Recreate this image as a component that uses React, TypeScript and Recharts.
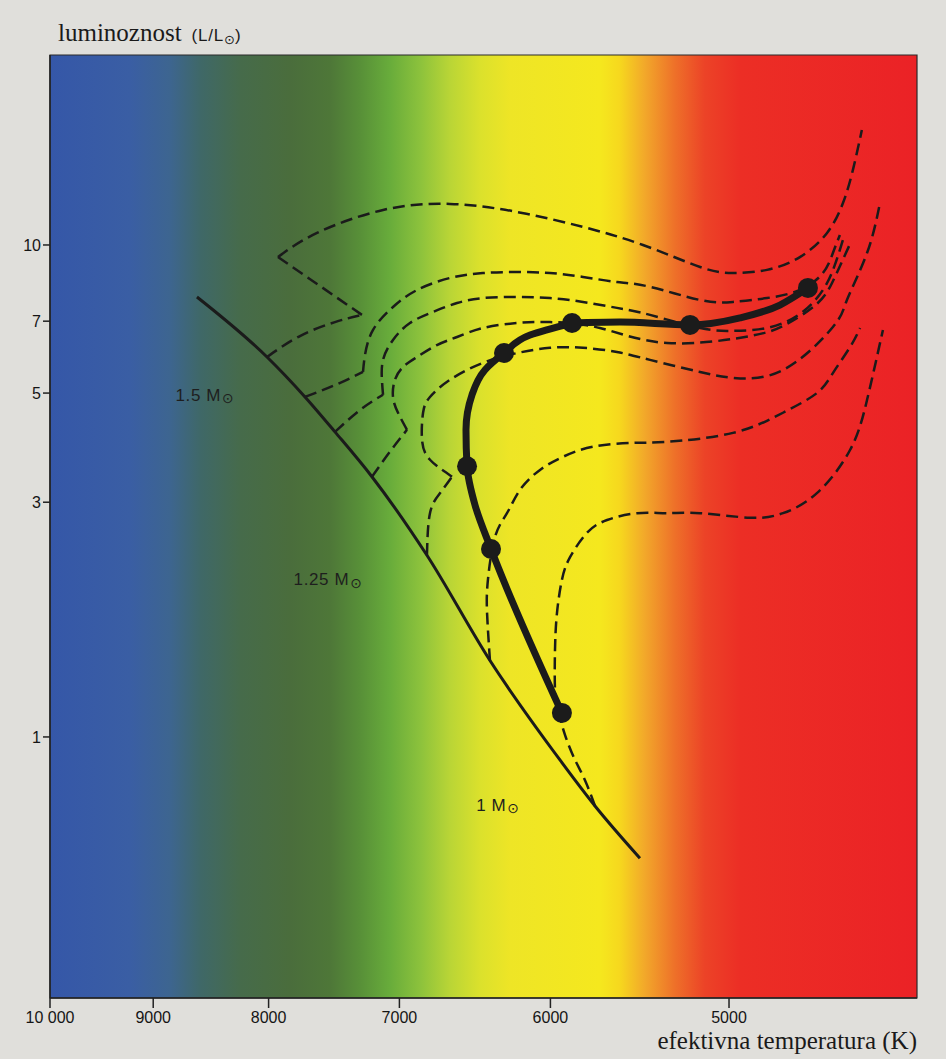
import React from 'react';
import { ComposedChart, Line, Scatter, XAxis, YAxis, CartesianGrid, ReferenceArea } from 'recharts';

type Pt = [number, number];

// Temperature (K) / luminosity (L/Lsun) pairs
const zams: Pt[] = [[8607, 7.84], [8013, 5.92], [7708, 4.91], [7476, 4.17], [7199, 3.38], [6806, 2.34], [6382, 1.43], [5942, 0.898], [5733, 0.724], [5476, 0.567]];

const track1a: Pt[] = [[8013, 5.92], [7748, 6.53], [7476, 6.97], [7273, 7.21]];
const track1b: Pt[] = [[7273, 7.21], [7924, 9.45]];
const track1c: Pt[] = [[7924, 9.45], [7614, 10.58], [7118, 11.78], [6648, 12.12], [6208, 11.67], [5804, 10.88], [5459, 10.0], [5150, 9.02], [4980, 8.77], [4810, 8.9], [4651, 9.45], [4524, 10.58], [4451, 12.17], [4406, 14.21], [4366, 17.13]];

const track2a: Pt[] = [[7708, 4.91], [7476, 5.19], [7265, 5.52]];
const track2b: Pt[] = [[7265, 5.52], [7250, 5.98], [7191, 6.72], [7046, 7.48], [6875, 8.1], [6648, 8.57], [6428, 8.77], [6208, 8.81], [6003, 8.77], [5804, 8.61], [5606, 8.41], [5420, 8.22], [5150, 7.73], [4980, 7.66], [4810, 7.8], [4651, 8.1], [4543, 8.77], [4497, 9.63], [4465, 10.48]];

const track3a: Pt[] = [[7476, 4.17], [7287, 4.62], [7118, 4.96]];
const track3b: Pt[] = [[7118, 4.96], [7126, 5.32], [7118, 5.84], [7046, 6.41], [6925, 6.94], [6764, 7.31], [6600, 7.62], [6428, 7.8], [6208, 7.84], [6003, 7.8], [5804, 7.66], [5606, 7.45], [5420, 7.21], [5150, 6.78], [4980, 6.69], [4810, 6.78], [4651, 7.24], [4543, 8.1], [4488, 9.11], [4451, 10.24]];

const track4a: Pt[] = [[7199, 3.38], [7068, 3.8], [6946, 4.21]];
const track4b: Pt[] = [[6946, 4.21], [7010, 4.56], [7046, 4.91], [7032, 5.32], [6974, 5.65], [6875, 5.92], [6737, 6.26], [6600, 6.5], [6428, 6.78], [6208, 6.94], [6003, 6.97], [5704, 6.78], [5327, 6.32], [4894, 6.53], [4713, 6.91], [4571, 7.59], [4501, 8.37], [4456, 9.24], [4419, 10.05]];

const track5a: Pt[] = [[6806, 2.34], [6785, 2.85], [6716, 3.13], [6634, 3.38]];
const track5b: Pt[] = [[6634, 3.38], [6785, 3.66], [6840, 4.01], [6833, 4.56], [6785, 4.91], [6648, 5.32], [6428, 5.76], [6208, 6.03], [6003, 6.18], [5804, 6.18], [5606, 6.06], [5420, 5.84], [5150, 5.52], [4980, 5.37], [4732, 5.57], [4497, 6.81], [4433, 7.73], [4343, 9.63], [4286, 12.17]];

const track6: Pt[] = [[6382, 1.43], [6401, 1.79], [6395, 2.09], [6349, 2.55], [6272, 2.85], [6189, 3.18], [6064, 3.49], [5924, 3.71], [5745, 3.89], [5515, 3.96], [5327, 3.98], [4980, 4.15], [4732, 4.56], [4571, 5.0], [4497, 5.49], [4419, 6.2], [4374, 6.78]];

const track7: Pt[] = [[5733, 0.724], [5792, 0.817], [5851, 0.898], [5911, 1.009], [5954, 1.134], [5972, 1.246], [5972, 1.502], [5960, 1.786], [5930, 2.085], [5881, 2.32], [5780, 2.6], [5663, 2.76], [5493, 2.85], [5327, 2.85], [5150, 2.85], [4894, 2.79], [4732, 2.85], [4571, 3.13], [4419, 3.83], [4343, 4.84], [4273, 6.72]];

// thick line: rising part (monotone in L) and flat upper part
const thickLower: Pt[] = [[5930, 1.119], [6375, 2.41], [6480, 2.96], [6533, 3.55], [6540, 4.21], [6500, 4.96], [6415, 5.57], [6291, 6.03], [6126, 6.56], [5869, 6.94]];
const thickUpper: Pt[] = [[5869, 6.94], [5589, 6.97], [5203, 6.88], [4944, 7.11], [4747, 7.55], [4613, 8.18]];

const thickDots: Pt[] = [[5930, 1.119], [6375, 2.41], [6533, 3.55], [6291, 6.03], [5869, 6.94], [5203, 6.88], [4613, 8.18]];

const massLabelT = [8537, 7529, 6330];
const massLabelL = [4.95, 2.085, 0.727];
const massLabelText = ['1.5 M', '1.25 M', '1 M'];

const xTicks = [10000, 9000, 8000, 7000, 6000, 5000];
const yTicks = [1, 3, 5, 7, 10];
const xDomain: [number, number] = [4127, 10000];
const yDomain: [number, number] = [0.2947, 24.33];

const toData = (pts: Pt[]) => pts.map(([T, L]) => ({ T, L }));

const dashedSegs: { key: string; pts: Pt[]; type: 'natural' | 'linear' }[] = [
  { key: 't1a', pts: track1a, type: 'natural' },
  { key: 't1b', pts: track1b, type: 'linear' },
  { key: 't1c', pts: track1c, type: 'natural' },
  { key: 't2a', pts: track2a, type: 'natural' },
  { key: 't2b', pts: track2b, type: 'natural' },
  { key: 't3a', pts: track3a, type: 'natural' },
  { key: 't3b', pts: track3b, type: 'natural' },
  { key: 't4a', pts: track4a, type: 'natural' },
  { key: 't4b', pts: track4b, type: 'natural' },
  { key: 't5a', pts: track5a, type: 'natural' },
  { key: 't5b', pts: track5b, type: 'natural' },
  { key: 't6', pts: track6, type: 'natural' },
  { key: 't7', pts: track7, type: 'natural' },
];

const massLabels = massLabelT.map((T, i) => ({ T, L: massLabelL[i], text: massLabelText[i] }));

const INK = '#1b1b1b';
const SANS = "'Liberation Sans', Arial, sans-serif";
const SERIF = "'Liberation Serif', 'Times New Roman', serif";

const MassLabel = (p: any) => (
  <text x={p.cx} y={p.cy} textAnchor="middle" dominantBaseline="central" fontFamily={SANS} fontSize={17} letterSpacing={0.6} fill="#1e1e1e">
    {p.payload.text}
    <tspan fontSize={14} dx={1} dy={3} fontFamily="'DejaVu Sans', sans-serif">⊙</tspan>
  </text>
);

const Dot = (p: any) => <circle cx={p.cx} cy={p.cy} r={10} fill={INK} />;

const YTitle = () => (
  <text x={58} y={41} fill="#1a1a1a">
    <tspan fontFamily={SERIF} fontSize={25}>luminoznost</tspan>
    <tspan dx={10} fontFamily={SANS} fontSize={17} letterSpacing={0.8}>(L/L</tspan>
    <tspan fontFamily="'DejaVu Sans', sans-serif" fontSize={13} dy={3}>⊙</tspan>
    <tspan fontFamily={SANS} fontSize={17} dy={-3}>)</tspan>
  </text>
);

const XTitle = () => (
  <text x={917} y={1049} textAnchor="end" fontFamily={SERIF} fontSize={25} fill="#1a1a1a">
    efektivna temperatura (K)
  </text>
);

export default function App() {
  return (
    <div style={{ position: 'absolute', left: 0, top: 0, width: 946, height: 1059, background: '#e0dfdb' }}>
      <ComposedChart width={946} height={1059} margin={{ top: 55, right: 29, bottom: 0, left: 0 }}>
        <defs>
          <linearGradient id="spec" x1="0" y1="0" x2="1" y2="0">
            <stop offset="0" stopColor="#3557a8" />
            <stop offset="0.092" stopColor="#3a5ea4" />
            <stop offset="0.138" stopColor="#3d6590" />
            <stop offset="0.173" stopColor="#3f6868" />
            <stop offset="0.219" stopColor="#466b4b" />
            <stop offset="0.277" stopColor="#4a6d3c" />
            <stop offset="0.323" stopColor="#4e7738" />
            <stop offset="0.358" stopColor="#589038" />
            <stop offset="0.392" stopColor="#68ac3b" />
            <stop offset="0.427" stopColor="#8cc23c" />
            <stop offset="0.461" stopColor="#b9d536" />
            <stop offset="0.496" stopColor="#dbe12c" />
            <stop offset="0.531" stopColor="#eee526" />
            <stop offset="0.634" stopColor="#f5e81e" />
            <stop offset="0.657" stopColor="#f6d81e" />
            <stop offset="0.686" stopColor="#f2a82a" />
            <stop offset="0.721" stopColor="#ee7029" />
            <stop offset="0.755" stopColor="#ec4327" />
            <stop offset="0.796" stopColor="#ec2e25" />
            <stop offset="1" stopColor="#eb2226" />
          </linearGradient>
        </defs>
        <CartesianGrid horizontal={false} vertical={false} fill="url(#spec)" fillOpacity={1} />
        <XAxis
          type="number"
          dataKey="T"
          scale="log"
          domain={xDomain}
          reversed
          allowDataOverflow
          ticks={xTicks}
          interval={0}
          height={61}
          tickSize={10}
          tickMargin={4}
          tickFormatter={(v: number) => (v === 10000 ? '10 000' : String(v))}
          tick={{ fill: '#151515', fontSize: 16, fontFamily: SANS }}
          axisLine={{ stroke: '#222', strokeWidth: 1.5 }}
          tickLine={{ stroke: '#222', strokeWidth: 1.5 }}
          label={XTitle}
        />
        <YAxis
          type="number"
          dataKey="L"
          scale="log"
          domain={yDomain}
          allowDataOverflow
          ticks={yTicks}
          interval={0}
          width={50}
          tickSize={7}
          tickMargin={2}
          tick={{ fill: '#151515', fontSize: 16, fontFamily: SANS }}
          axisLine={{ stroke: '#222', strokeWidth: 1.5 }}
          tickLine={{ stroke: '#222', strokeWidth: 1.5 }}
          label={YTitle}
        />
        <ReferenceArea x1={xDomain[1]} x2={xDomain[0]} y1={yDomain[0]} y2={yDomain[1]} fill="none" stroke="#2a2a2a" strokeWidth={1.2} />
        <Line data={toData(zams)} dataKey="L" type="monotone" stroke={INK} strokeWidth={3} dot={false} isAnimationActive={false} legendType="none" />
        {dashedSegs.map((s) => (
          <Line
            key={s.key}
            data={toData(s.pts)}
            dataKey="L"
            type={s.type}
            stroke={INK}
            strokeWidth={2.5}
            strokeDasharray="12 6"
            dot={false}
            isAnimationActive={false}
            legendType="none"
          />
        ))}
        <Line data={toData(thickLower)} dataKey="L" type="monotoneY" stroke={INK} strokeWidth={7} dot={false} isAnimationActive={false} legendType="none" />
        <Line data={toData(thickUpper)} dataKey="L" type="monotone" stroke={INK} strokeWidth={7} dot={false} isAnimationActive={false} legendType="none" />
        <Scatter data={toData(thickDots)} dataKey="L" shape={Dot} isAnimationActive={false} legendType="none" />
        <Scatter data={massLabels} dataKey="L" shape={MassLabel} isAnimationActive={false} legendType="none" />
      </ComposedChart>
    </div>
  );
}
